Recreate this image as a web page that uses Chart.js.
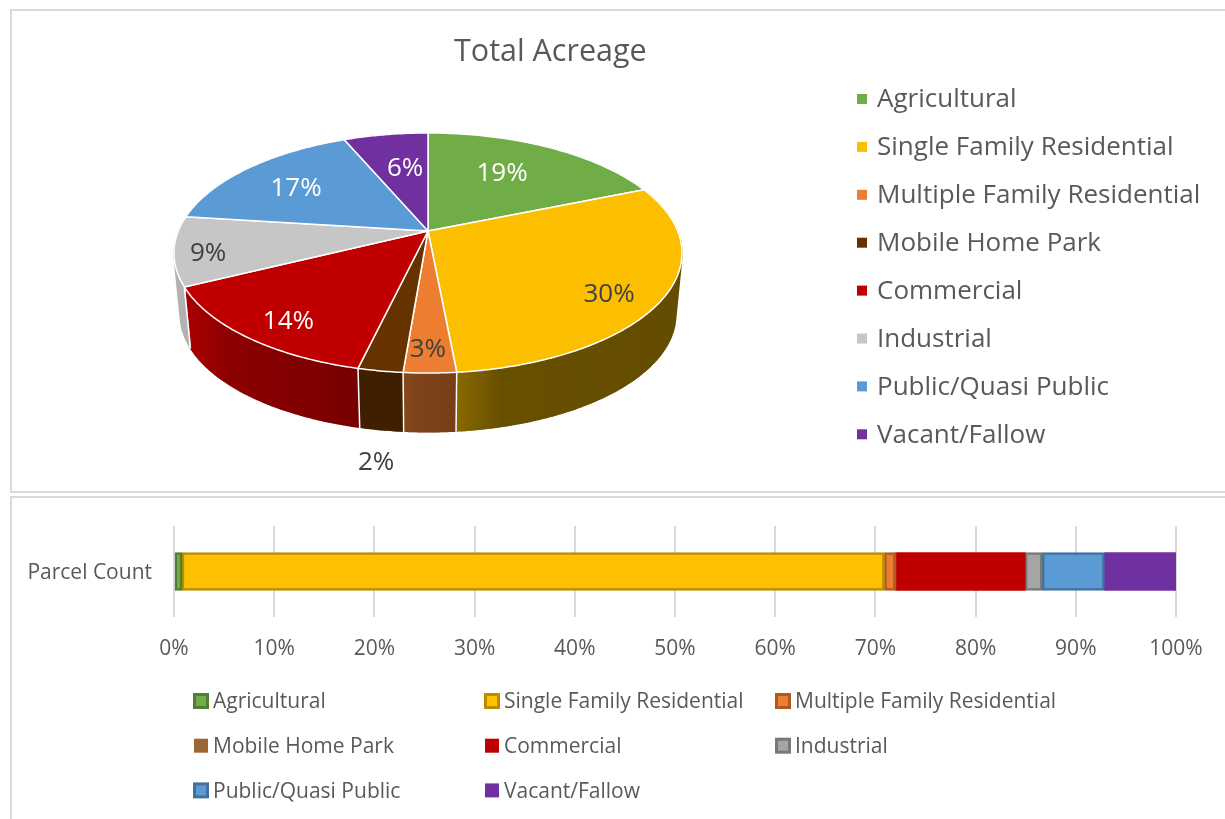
<!DOCTYPE html>
<html>
<head>
<meta charset="utf-8">
<script src="https://cdn.jsdelivr.net/npm/chart.js@4/dist/chart.umd.min.js"></script>
<style>
html,body{margin:0;padding:0;background:#fff;width:1225px;height:819px;overflow:hidden}
.frame{position:absolute;border:2px solid #d9d9d9;box-sizing:border-box}
canvas{position:absolute;left:0}
</style>
</head>
<body>
<div class="frame" style="left:10px;top:9px;width:1225px;height:484px"></div>
<div class="frame" style="left:10px;top:496px;width:1225px;height:340px"></div>
<canvas id="pie" width="1225" height="495" style="top:0"></canvas>
<canvas id="bar" width="1225" height="324" style="top:495px"></canvas>
<script>
const categories = ["Agricultural","Single Family Residential","Multiple Family Residential","Mobile Home Park","Commercial","Industrial","Public/Quasi Public","Vacant/Fallow"];
const acreageShare = [18.8,29.7,2.8,2.4,14.0,9.3,16.6,6.4];
const parcelShare = [0.8,70.1,1.1,0.05,12.9,1.7,6.2,7.15];
const pieColors = ["#70ad47","#fcbf00","#ed7d31","#663300","#c00000","#c6c6c6","#5b9bd5","#7030a0"];
const barColors = ["#70ad47","#ffc000","#ed7d31","#9e6536","#c00000","#a5a5a5","#5b9bd5","#7030a0"];
const barBorders = ["#507e32","#bc8c00","#ae5a21",null,null,"#787878","#41719c",null];

const TEXT = "#595959", FONT = "'Open Sans'";

// Look of the tilted pie (not data)
const tilt = {cx:428, cy:231, a:116, b:249.7, k:0.1833, drop:63, shrink:0.975};
const labelRadius = [.65,.82,.85,1.46,.83,.87,.70,.63];
const labelTurn = [-3.6,5.2,0.4,-3,-2.3,-2.1,-1.3,2.2];
const labelInk = ["#fff","#404040","#404040","#404040","#fff","#404040","#fff","#fff"];
const sideShade = [[.6,.6,.6],[.55,.42,.40],[.58,.54,.50],[.62,.62,.62],[.88,.74,.62],[.9,.9,.9],[.6,.6,.6],[.6,.6,.6]];

function project(theta, r, lower){
  const u = r*Math.sin(theta), v = -r*Math.cos(theta), w = 1 - tilt.k*v;
  const s = lower ? tilt.shrink : 1;
  return [tilt.cx + s*tilt.b*u/w, tilt.cy + s*tilt.a*v/w + (lower ? tilt.drop : 0)];
}
function shade(hex, f){
  const n = parseInt(hex.slice(1),16);
  return `rgb(${(n>>16&255)*f|0},${(n>>8&255)*f|0},${(n&255)*f|0})`;
}
function rim(t0, t1, lower){
  const n = Math.max(2, Math.ceil((t1-t0)/0.01)), pts = [];
  for(let i=0;i<=n;i++) pts.push(project(t0+(t1-t0)*i/n, 1, lower));
  return pts;
}
const tiltedPie = {
  id:"tiltedPie",
  beforeDatasetsDraw(chart){
    const ctx = chart.ctx, arcs = chart.getDatasetMeta(0).data;
    const colors = chart.data.datasets[0].backgroundColor;
    const spans = arcs.map(a => [a.startAngle+Math.PI/2, a.endAngle+Math.PI/2]);
    ctx.save();
    ctx.lineJoin = "round";
    // side wall
    spans.forEach((sp,i)=>{
      const top = rim(sp[0],sp[1],false), low = rim(sp[0],sp[1],true);
      const xs = low.map(p=>p[0]), x0 = Math.min(...xs), x1 = Math.max(...xs);
      const g = ctx.createLinearGradient(x0,0,x1+0.01,0), sh = sideShade[i];
      g.addColorStop(0, shade(colors[i],sh[0]));
      g.addColorStop(.2, shade(colors[i],sh[1]));
      g.addColorStop(1, shade(colors[i],sh[2]));
      ctx.beginPath();
      top.forEach((p,j)=> j?ctx.lineTo(p[0],p[1]):ctx.moveTo(p[0],p[1]));
      [...low].reverse().forEach(p=>ctx.lineTo(p[0],p[1]));
      ctx.closePath();
      ctx.fillStyle = g; ctx.fill();
      // sweep top rim to bottom rim so the wall's outline is solid
      ctx.beginPath();
      top.forEach((p,j)=>{ ctx.moveTo(p[0],p[1]); ctx.lineTo(low[j][0],low[j][1]); });
      ctx.strokeStyle = g; ctx.lineWidth = 1.5; ctx.stroke();
    });
    // white seams between wall pieces
    spans.forEach(sp=>{
      const a = project(sp[0],1,false), b = project(sp[0],1,true);
      ctx.beginPath(); ctx.moveTo(a[0],a[1]); ctx.lineTo(b[0],b[1]);
      ctx.strokeStyle = "#fff"; ctx.lineWidth = 1.5; ctx.stroke();
    });
    // top face
    spans.forEach((sp,i)=>{
      ctx.beginPath();
      ctx.moveTo(tilt.cx,tilt.cy);
      rim(sp[0],sp[1],false).forEach(p=>ctx.lineTo(p[0],p[1]));
      ctx.closePath();
      ctx.fillStyle = colors[i]; ctx.fill();
      ctx.strokeStyle = "#fff"; ctx.lineWidth = 1.5; ctx.stroke();
    });
    // data labels
    const total = chart.data.datasets[0].data.reduce((s,v)=>s+v,0);
    ctx.font = `26px ${FONT}`;
    ctx.textAlign = "center"; ctx.textBaseline = "middle";
    spans.forEach((sp,i)=>{
      const mid = (sp[0]+sp[1])/2 + labelTurn[i]*Math.PI/180;
      const p = project(mid, labelRadius[i], false);
      ctx.fillStyle = labelInk[i];
      ctx.fillText(Math.round(chart.data.datasets[0].data[i]/total*100)+"%", p[0], p[1]+2);
    });
    // key
    ctx.textAlign = "left";
    categories.forEach((name,i)=>{
      const y = 99 + i*47.9;
      ctx.fillStyle = colors[i];
      ctx.fillRect(857, y-5, 10, 10);
      ctx.fillStyle = TEXT;
      ctx.fillText(name, 877, y+1);
    });
    ctx.restore();
    return false;
  }
};

new Chart(document.getElementById("pie"),{
  type:"pie",
  data:{labels:categories,datasets:[{data:acreageShare,backgroundColor:pieColors}]},
  plugins:[tiltedPie],
  options:{
    responsive:false,animation:false,devicePixelRatio:1,
    layout:{padding:{left:454,right:2,top:34,bottom:30}},
    plugins:{
      tooltip:{enabled:false},legend:{display:false},
      title:{display:true,text:"Total Acreage",align:"start",color:TEXT,font:{family:FONT,size:30.5,weight:"normal"},padding:{top:0,bottom:10}}
    }
  }
});

const gridLegend = {
  id:"gridLegend",
  afterDraw(chart){
    const ctx = chart.ctx;
    ctx.save();
    ctx.font = `21px ${FONT}`; ctx.textBaseline = "middle"; ctx.textAlign = "left";
    chart.data.datasets.forEach((ds,i)=>{
      const x = 193 + (i%3)*291, y = 206 + Math.floor(i/3)*44.7;
      if(ds.borderColor){
        ctx.fillStyle = ds.borderColor; ctx.fillRect(x,y-8,16,16);
        ctx.fillStyle = ds.backgroundColor; ctx.fillRect(x+3,y-5,10,10);
      }else{
        ctx.fillStyle = ds.backgroundColor; ctx.fillRect(x+1,y-7,14,14);
      }
      ctx.fillStyle = TEXT;
      ctx.fillText(ds.label, x+20, y+1.5);
    });
    ctx.restore();
  }
};

new Chart(document.getElementById("bar"),{
  type:"bar",
  data:{
    labels:["Parcel Count"],
    datasets:categories.map((name,i)=>({
      label:name,data:[parcelShare[i]],backgroundColor:barColors[i],
      borderColor:barBorders[i]||undefined,borderWidth:barBorders[i]?2.5:0,borderSkipped:false,
      barThickness:38
    }))
  },
  plugins:[gridLegend],
  options:{
    indexAxis:"y",responsive:false,animation:false,devicePixelRatio:1,
    layout:{padding:{left:0,right:49,top:31,bottom:0}},
    plugins:{legend:{display:false},tooltip:{enabled:false},title:{display:false}},
    scales:{
      x:{stacked:true,min:0,max:100,
        afterFit(s){s.height=202;},
        grid:{color:"#d9d9d9",lineWidth:2,drawTicks:false},border:{display:false},
        ticks:{stepSize:10,padding:19,maxRotation:0,color:TEXT,font:{family:FONT,size:21},callback:v=>v+"%"}},
      y:{stacked:true,
        afterFit(s){s.width=174;},
        grid:{display:false},border:{display:false},
        ticks:{padding:14,color:TEXT,font:{family:FONT,size:21,lineHeight:"4px"},
          callback(v){return ["",this.getLabelForValue(v)];}}}
    }
  }
});
</script>
</body>
</html>
